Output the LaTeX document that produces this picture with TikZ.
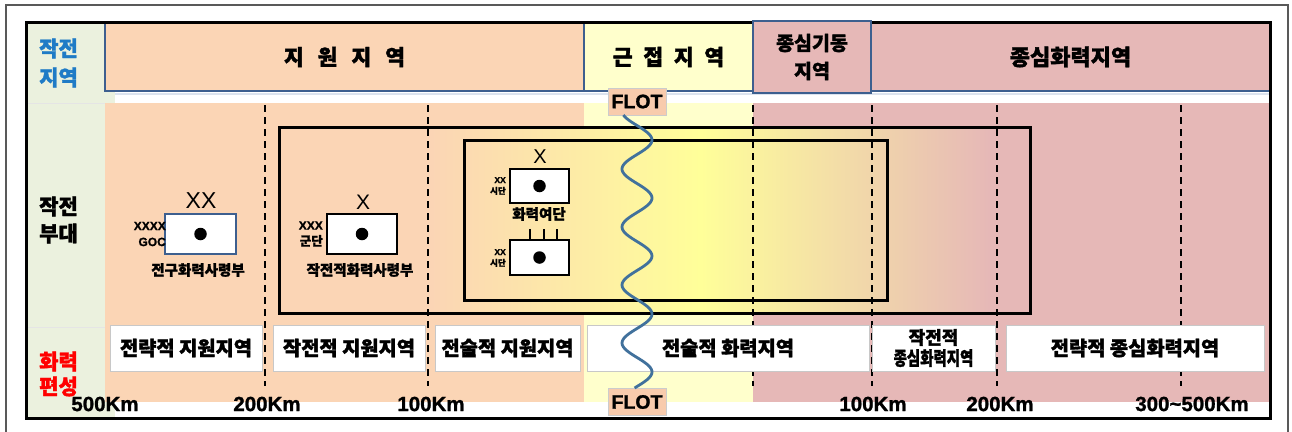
\documentclass[tikz,border=0pt]{standalone}
\usepackage{fontspec}
\setmainfont{Liberation Sans}[BoldFeatures={FakeBold=1.2}]
\newfontfamily\kr{Noto Sans CJK KR}[BoldFeatures={FakeBold=1.6}]
\definecolor{peach}{HTML}{FBD5B5}
\definecolor{lyellow}{HTML}{FFFFCC}
\definecolor{byellow}{HTML}{FFFF99}
\definecolor{pinkz}{HTML}{E6B8B7}
\definecolor{greenc}{HTML}{EBF1DE}
\definecolor{hblue}{HTML}{3D5F8F}
\definecolor{tblue}{HTML}{1F7BC6}
\definecolor{wavec}{HTML}{41719C}
\definecolor{gline}{HTML}{C8C8C8}
\definecolor{flotc}{HTML}{F8CBAD}
\definecolor{faintblue}{HTML}{DCE3EE}
\newcommand\fsz[2]{\fontsize{#1}{#2}\selectfont}
\begin{document}
\begin{tikzpicture}[x=1pt,y=-1pt,
  hdrcell/.style={draw=hblue,line width=2pt,inner sep=0pt,font=\kr\bfseries\fsz{21.5}{29},align=center},
  zonebox/.style={draw=gline,fill=white,line width=1pt,inner sep=0pt,font=\kr\bfseries\fsz{19.8}{21},align=center},
  dline/.style={dash pattern=on 7pt off 5pt,line width=2pt},
  km/.style={font=\bfseries\fsz{20.5}{20},inner sep=0pt},
  sidetxt/.style={font=\kr\bfseries\fsz{21}{29},align=left,anchor=west,inner sep=0pt},
  unitbox/.style={draw,line width=2.8pt,fill=white,inner sep=0pt},
  dotm/.style={circle,fill=black,inner sep=0pt,minimum size=12.5pt},
  echelon/.style={font=\fsz{21}{21},inner sep=0pt},
  ulabel/.style={font=\bfseries\fsz{12}{16},align=right,anchor=east,inner sep=0pt},
  uname/.style={font=\kr\bfseries\fsz{14.5}{16},inner sep=0pt},
  flotbox/.style={draw=gray!40,fill=flotc,line width=0.8pt,inner sep=0pt,minimum width=58pt,minimum height=27pt,font=\bfseries\fsz{19.5}{20}},
  waveline/.style={draw=wavec,line width=2.8pt}
]
\clip (0,0) rectangle (1292,431);
\fill[white] (0,0) rectangle (1292,431);
\draw[gray!70!black,line width=1.2pt] (6,440) -- (6,5) -- (1288,5) -- (1288,440);

% left column
\fill[greenc] (27,23) rectangle (115,417);
\draw[gray!20,line width=1pt] (27,103) -- (105,103) (27,327) -- (105,327);

% body zones
\fill[peach] (105,103) rectangle (584,402);
\fill[lyellow] (584,103) rectangle (753,402);
\fill[pinkz] (753,103) rectangle (1270,402);
\draw[faintblue,line width=1.5pt] (115,94) -- (1270,94);

% header cells
\node[hdrcell,fill=peach,minimum width=479pt,minimum height=68pt] (hsupport) at (344.5,57)
  {\raisebox{-3pt}{지\hspace{0.65em}원\hspace{0.65em}지\hspace{0.65em}역}};
\node[hdrcell,fill=lyellow,minimum width=169pt,minimum height=68pt] (hclose) at (668.5,57)
  {\raisebox{-1pt}{근\hspace{0.5em}접\hspace{0.5em}지\hspace{0.5em}역}};
\node[hdrcell,fill=pinkz,minimum width=399pt,minimum height=68pt,font=\kr\bfseries\fsz{22}{29}] (hfire) at (1070.5,57)
  {\raisebox{-3pt}{종심화력지역}};

% main frame
\draw[line width=3pt] (26,22) rectangle (1270,418);

\node[hdrcell,fill=pinkz,line width=2.6pt,minimum width=118pt,minimum height=72pt,font=\kr\bfseries\fsz{19.5}{28}] (hdeep) at (812,57)
  {종심기동\\지역};

% gradient inside big rectangle
\fill[peach] (279,127) rectangle (431,313);
\shade[left color=peach,right color=byellow] (430,127) rectangle (701,313);
\shade[left color=byellow,right color=pinkz] (700,127) rectangle (990,313);
\fill[pinkz] (989,127) rectangle (1030,313);

% distance dashed lines
\foreach \xx in {265,428,753,872,997,1181}
  \draw[dline] (\xx,105) -- (\xx,386);

% big and inner rectangles
\node[draw,line width=3pt,inner sep=0pt,minimum width=751pt,minimum height=186pt] (bigrect) at (654.5,220) {};
\node[draw,line width=3pt,inner sep=0pt,minimum width=423pt,minimum height=160pt] (innerrect) at (675.5,220) {};

% bottom zone boxes
\node[zonebox,minimum width=152pt,minimum height=46pt] (b1) at (186,348) {전략적 지원지역};
\node[zonebox,minimum width=152pt,minimum height=46pt] (b2) at (349,348) {작전적 지원지역};
\node[zonebox,minimum width=145pt,minimum height=46pt] (b3) at (507.5,348) {전술적 지원지역};
\node[zonebox,minimum width=282pt,minimum height=46pt] (b4) at (728,348) {전술적 화력지역};
\node[zonebox,minimum width=123pt,minimum height=46pt,font=\kr\bfseries\fsz{18}{21}] (b5) at (933.5,348)
  {작전적\\\scalebox{0.76}[1]{\fsz{19}{21}종심화력지역}};
\node[zonebox,minimum width=258pt,minimum height=46pt] (b6) at (1135,348) {전략적 종심화력지역};

% left column labels
\node[sidetxt,text=tblue] (lzone) at (39,63) {작전\\지역};
\node[sidetxt,font=\kr\bfseries\fsz{21}{27}] (lunit) at (39,220) {작전\\부대};
\node[sidetxt,text=red,font=\kr\bfseries\fsz{21}{25}] (lfire) at (39,374) {화력\\편성};

% FLOT
\node[flotbox] (flott) at (637,101.5) {FLOT};
\node[flotbox] (flotb) at (637,402) {FLOT};
\draw[waveline] plot[domain=115:388,samples=160,smooth,variable=\t] ({637+15*sin((\t-125.5)/58*360)},\t);

% km labels
\node[km] (k1) at (105,404) {500Km};
\node[km] (k2) at (267,404) {200Km};
\node[km] (k3) at (431,404) {100Km};
\node[km] (k4) at (873,404) {100Km};
\node[km] (k5) at (1000,404) {200Km};
\node[km] (k6) at (1192,404) {300\textasciitilde 500Km};

% GOC
\node[unitbox,draw=hblue,line width=2.2pt,minimum width=71pt,minimum height=40pt] (goc) at (200.5,234) {};
\node[dotm] (gocdot) at (goc.center) {};
\node[echelon,font=\fsz{23}{23}] (gocech) at (201,201) {XX};
\node[ulabel] (goclab) at (166,234) {XXXX\\GOC};
\node[uname] (gocname) at (198,270) {전구화력사령부};

% corps fire command
\node[unitbox,minimum width=70pt,minimum height=40pt] (corps) at (362,234) {};
\node[dotm] (corpsdot) at (corps.center) {};
\node[echelon,font=\fsz{21}{21}] (corpsech) at (363,202) {X};
\node[ulabel] (corpslab) at (323,234) {XXX\\{\kr\fsz{12.5}{16}군단}};
\node[uname] (corpsname) at (360,270) {작전적화력사령부};

% fire brigade
\node[unitbox,minimum width=59pt,minimum height=34pt] (bde) at (539.5,186) {};
\node[dotm] (bdedot) at (bde.center) {};
\node[echelon,font=\fsz{20}{20}] (bdeech) at (540,157) {X};
\node[ulabel,font=\bfseries\fsz{8.5}{11}] (bdelab) at (506,186) {XX\\{\kr\fsz{8.5}{11}시단}};
\node[uname] (bdename) at (539,214) {화력여단};

% division artillery
\node[unitbox,minimum width=59pt,minimum height=35pt] (div) at (539.5,257.5) {};
\node[dotm] (divdot) at (div.center) {};
\node[ulabel,font=\bfseries\fsz{8.5}{11}] (divlab) at (506,258) {XX\\{\kr\fsz{8.5}{11}시단}};
\coordinate (t1) at (530,229);
\coordinate (t2) at (544,229);
\coordinate (t3) at (557,229);
\draw[line width=1.8pt] (t1) -- (t1 |- div.north) (t2) -- (t2 |- div.north) (t3) -- (t3 |- div.north);
\end{tikzpicture}
\end{document}
